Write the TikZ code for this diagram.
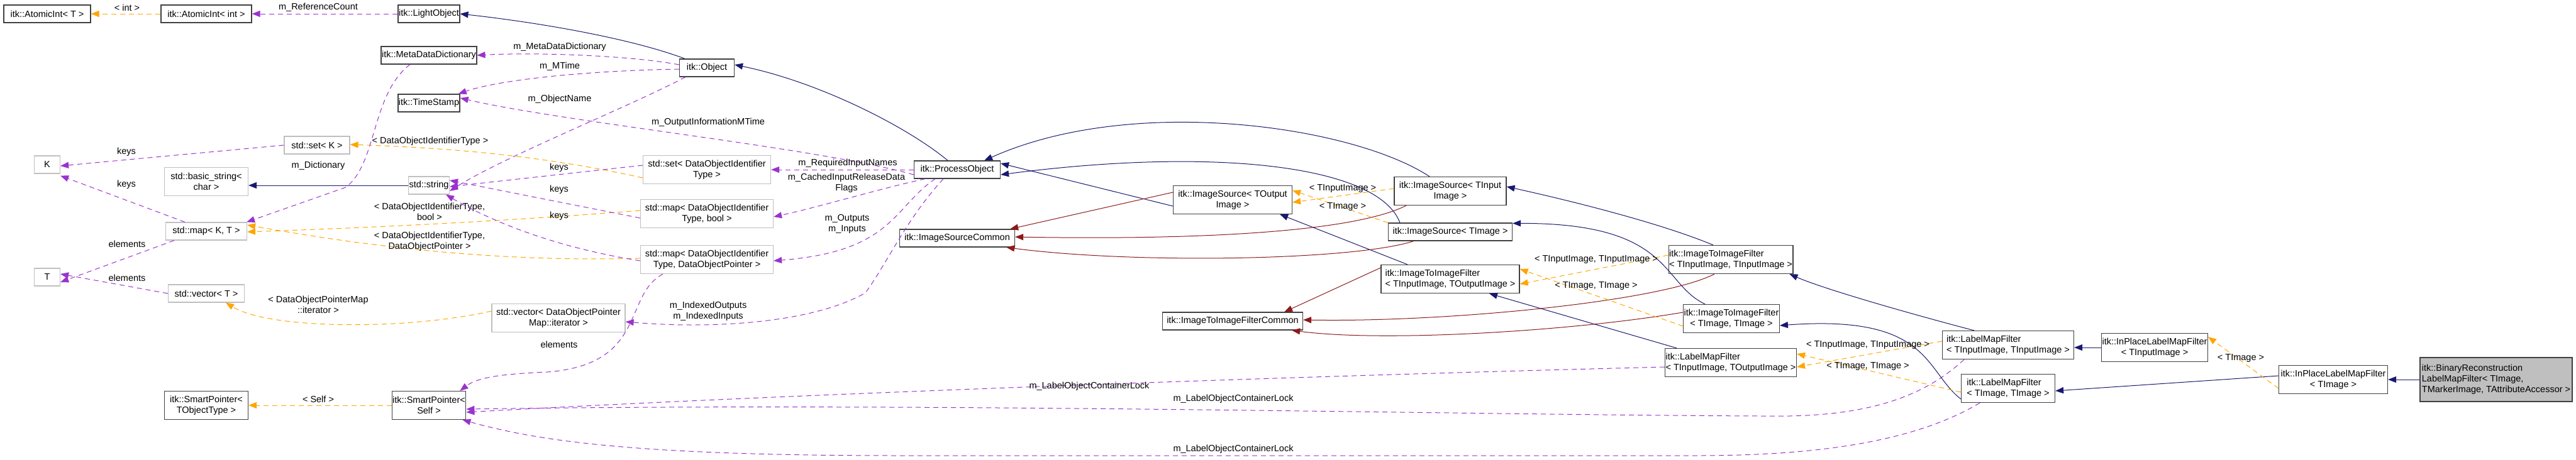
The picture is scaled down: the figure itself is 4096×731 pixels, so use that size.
\documentclass[tikz,border=0pt]{standalone}
\usepackage{fontspec}
\setmainfont{Liberation Sans}
\usetikzlibrary{arrows.meta}
\definecolor{inhc}{HTML}{191970}
\definecolor{redc}{HTML}{8B1A1A}
\definecolor{usec}{HTML}{9A32CD}
\definecolor{tmpc}{HTML}{FFA500}
\definecolor{grayb}{HTML}{BFBFBF}
\begin{document}
\begin{tikzpicture}[x=1pt,y=-1pt,
  every node/.style={font=\fontsize{14.5}{17}\selectfont, inner sep=1pt},
  itk/.style={draw=black!75, line width=1.2pt, fill=white, minimum height=28pt, align=center},
  std/.style={draw=grayb, line width=1.2pt, fill=white, minimum height=28pt, align=center},
  two/.style={minimum height=45pt},
  tip/.style={-{Triangle[length=13pt,width=10pt]}},
  inh/.style={tip, draw=inhc, line width=1pt},
  prv/.style={tip, draw=redc, line width=1pt},
  use/.style={tip, draw=usec, line width=1pt, dash pattern=on 8pt off 6pt},
  tpl/.style={tip, draw=tmpc, line width=1pt, dash pattern=on 8pt off 6pt},
  lbl/.style={fill=none, align=center}]
\useasboundingbox (0,0) rectangle (4096,731);
% ---- nodes
\node[itk, minimum width=138pt] (ait) at (75,22) {itk::AtomicInt< T >};
\node[itk, minimum width=144pt] (aii) at (328,22) {itk::AtomicInt< int >};
\node[itk, minimum width=84pt] (lo) at (682,22) {itk::LightObject};
\node[itk, minimum width=136pt] (mdd) at (682,88) {itk::MetaDataDictionary};
\node[itk, minimum width=85pt] (ts) at (682,164) {itk::TimeStamp};
\node[itk, minimum width=87pt] (obj) at (1124,108) {itk::Object};
\node[std, minimum width=104pt] (setk) at (504,231) {std::set< K >};
\node[std, minimum width=41pt] (K) at (75,262) {K};
\node[std, two, minimum width=133pt] (bstr) at (328,289) {std::basic\_string<\\char >};
\node[std, minimum width=53pt] (str) at (682,295) {std::string};
\node[std, minimum width=129pt] (mapkt) at (328,368) {std::map< K, T >};
\node[std, minimum width=41pt] (T) at (75,441) {T};
\node[std, minimum width=121pt] (vect) at (328,467) {std::vector< T >};
\node[itk, two, minimum width=133pt] (spto) at (328,645) {itk::SmartPointer<\\TObjectType >};
\node[itk, two, minimum width=103pt] (sps) at (682,645) {itk::SmartPointer<\\Self >};
\node[std, two, minimum width=203pt] (setd) at (1124,270) {std::set< DataObjectIdentifier\\Type >};
\node[std, two, minimum width=211pt] (mapb) at (1124,340) {std::map< DataObjectIdentifier\\Type, bool >};
\node[std, two, minimum width=211pt] (mapp) at (1124,413) {std::map< DataObjectIdentifier\\Type, DataObjectPointer >};
\node[std, two, minimum width=212pt] (vecp) at (888,506) {std::vector< DataObjectPointer\\Map::iterator >};
\node[itk, minimum width=137pt] (po) at (1522,270) {itk::ProcessObject};
\node[itk, minimum width=183pt] (isc) at (1522,379) {itk::ImageSourceCommon};
\node[itk, two, minimum width=189pt] (isout) at (1960,318) {itk::ImageSource< TOutput\\Image >};
\node[itk, minimum width=223pt] (i2ic) at (1960,511) {itk::ImageToImageFilterCommon};
\node[itk, two, minimum width=178pt] (isin) at (2306,304) {itk::ImageSource< TInput\\Image >};
\node[itk, minimum width=197pt] (isimg) at (2306,369) {itk::ImageSource< TImage >};
\node[itk, two, minimum width=220pt, align=left] (i2iout) at (2306,444) {itk::ImageToImageFilter\\< TInputImage, TOutputImage >};
\node[itk, two, minimum width=177pt, align=left] (i2iin) at (2752,413) {itk::ImageToImageFilter\\< TInputImage, TInputImage >};
\node[itk, two, minimum width=136pt] (i2iimg) at (2753,507) {itk::ImageToImageFilter\\< TImage, TImage >};
\node[itk, two, minimum width=189pt, align=left] (lmfout) at (2752,577) {itk::LabelMapFilter\\< TInputImage, TOutputImage >};
\node[itk, two, minimum width=209pt, align=left] (lmfin) at (3193,549) {itk::LabelMapFilter\\< TInputImage, TInputImage >};
\node[itk, two, minimum width=149pt, align=left] (lmfimg) at (3193,618) {itk::LabelMapFilter\\< TImage, TImage >};
\node[itk, two, minimum width=150pt] (ipin) at (3426,553) {itk::InPlaceLabelMapFilter\\< TInputImage >};
\node[itk, two, minimum width=173pt] (ipimg) at (3710,604) {itk::InPlaceLabelMapFilter\\< TImage >};
\node[itk, fill=grayb, minimum width=242pt, minimum height=70pt, align=left] (bin) at (3969,604) {itk::BinaryReconstruction\\LabelMapFilter< TImage,\\ TMarkerImage, TAttributeAccessor >};
% ---- inheritance
\draw[inh] (str.west) -- (bstr.east |- str.west);
\draw[inh] ([xshift=9pt]obj.north west) .. controls (1000,60) and (850,35) .. (lo.east);
\draw[inh] ([xshift=-15pt]po.north) .. controls (1440,200) and (1300,130) .. ([yshift=5pt]obj.east);
\draw[inh] ([yshift=-10pt]isout.west) -- ([yshift=10pt]po.east);
\draw[inh] ([xshift=-33pt]isin.north) .. controls (2150,200) and (1800,150) .. ([xshift=-26pt]po.north east);
\draw[inh] ([xshift=-80pt]isimg.north) .. controls (2190,260) and (1920,235) .. ([yshift=-8pt]po.east);
\draw[inh] ([xshift=-68pt]i2iout.north) -- ([xshift=-20pt]isout.south east);
\draw[inh] ([xshift=-28pt]i2iin.north) .. controls (2640,355) and (2500,320) .. ([yshift=7pt]isin.east);
\draw[inh] ([xshift=-42pt]i2iimg.north) .. controls (2640,450) and (2660,355) .. ([yshift=-1pt]isimg.north east);
\draw[inh] ([xshift=-86pt]lmfout.north) -- ([xshift=62pt]i2iout.south);
\draw[inh] ([xshift=-54pt]lmfin.north) .. controls (3040,500) and (2900,460) .. ([xshift=-6pt]i2iin.south east);
\draw[inh] ([yshift=-17pt]lmfimg.west) .. controls (3060,590) and (3070,500) .. ([yshift=-11pt]i2iimg.east);
\draw[inh] (ipin.west) -- (lmfin.east |- ipin.west);
\draw[inh] ([yshift=6pt]ipimg.west) -- ([yshift=-4pt]lmfimg.east);
\draw[inh] (bin.west) -- (ipimg.east);
% ---- protected (dark red)
\draw[prv] ([yshift=12pt]isout.west) -- ([xshift=-8pt]isc.north east);
\draw[prv] ([xshift=-70pt]isin.south) .. controls (2150,370) and (1900,382) .. ([yshift=2pt]isc.east);
\draw[prv] ([xshift=-58pt]isimg.south) .. controls (2150,415) and (1800,420) .. ([xshift=-14pt]isc.south east);
\draw[prv] ([yshift=18pt]i2iout.west) -- ([xshift=-30pt]i2ic.north east);
\draw[prv] ([xshift=-26pt]i2iin.south) .. controls (2640,480) and (2300,513) .. ([yshift=2pt]i2ic.east);
\draw[prv] ([yshift=10pt]i2iimg.west) .. controls (2500,527) and (2200,545) .. ([xshift=-18pt]i2ic.south east);
% ---- template (orange)
\draw[tpl] (aii.west) -- (ait.east);
\node[lbl] (l1) at (202,12) {< int >};
\draw[tpl] ([yshift=-13pt]setd.west) .. controls (850,245) and (700,235) .. ([yshift=1pt]setk.east);
\node[lbl] (l2) at (684,225) {< DataObjectIdentifierType >};
\draw[tpl] ([yshift=5pt]mapb.west) .. controls (800,352) and (600,362) .. ([yshift=-1pt]mapkt.east);
\node[lbl] (l3) at (683,337) {< DataObjectIdentifierType,\\bool >};
\draw[tpl] ([yshift=2pt]mapp.west) .. controls (800,417) and (600,395) .. ([yshift=10pt]mapkt.east);
\node[lbl] (l4) at (683,384) {< DataObjectIdentifierType,\\DataObjectPointer >};
\draw[tpl] ([yshift=11pt]vecp.west) .. controls (650,525) and (430,525) .. ([xshift=31pt]vect.south);
\node[lbl] (l5) at (506,485) {< DataObjectPointerMap\\::iterator >};
\draw[tpl] (sps.west) -- (spto.east);
\node[lbl] (l6) at (506,635) {< Self >};
\draw[tpl] ([yshift=4pt]isin.west) -- ([yshift=-4pt]isout.east);
\node[lbl] (l7) at (2135,300) {< TInputImage >};
\draw[tpl] (isimg.north west) -- ([yshift=15pt]isout.east);
\node[lbl] (l8) at (2135,329) {< TImage >};
\draw[tpl] ([yshift=7pt]i2iin.west) -- ([yshift=-8pt]i2iout.east);
\node[lbl] (l9) at (2538,413) {< TInputImage, TInputImage >};
\draw[tpl] ([yshift=-12pt]i2iimg.west) -- ([yshift=16pt]i2iout.east);
\node[lbl] (l10) at (2538,455) {< TImage, TImage >};
\draw[tpl] ([yshift=6pt]lmfin.west) -- ([yshift=-7pt]lmfout.east);
\node[lbl] (l11) at (2970,549) {< TInputImage, TInputImage >};
\draw[tpl] ([yshift=-6pt]lmfimg.west) -- ([yshift=14pt]lmfout.east);
\node[lbl] (l12) at (2970,583) {< TImage, TImage >};
\draw[tpl] ([yshift=-14pt]ipimg.west) -- ([yshift=17pt]ipin.east);
\node[lbl] (l13) at (3563,570) {< TImage >};
% ---- usage (purple)
\draw[use] (lo.west) -- (aii.east);
\node[lbl] (u1) at (506,12) {m\_ReferenceCount};
\draw[use] ([yshift=5pt]obj.west) .. controls (1000,88) and (850,83) .. (mdd.east);
\node[lbl] (u2) at (890,75) {m\_MetaDataDictionary};
\draw[use] ([yshift=-2pt]obj.west) .. controls (950,112) and (800,125) .. ([xshift=-3pt]ts.north east);
\node[lbl] (u3) at (890,106) {m\_MTime};
\draw[use] ([xshift=10pt]obj.south west) .. controls (1000,170) and (800,250) .. ([yshift=-9pt]str.east);
\node[lbl] (u4) at (890,158) {m\_ObjectName};
\draw[use] ([xshift=-30pt]mdd.south) .. controls (590,150) and (600,260) .. (550,298) -- ([xshift=-1pt]mapkt.north east);
\node[lbl] (u5) at (506,264) {m\_Dictionary};
\draw[use] (setk.west) -- ([yshift=-2pt]K.east);
\node[lbl] (u6) at (201,242) {keys};
\draw[use] ([xshift=-34pt]mapkt.north) -- ([yshift=-3pt]K.south east);
\node[lbl] (u7) at (201,294) {keys};
\draw[use] ([xshift=-51pt]mapkt.south) -- ([yshift=-8pt]T.east);
\node[lbl] (u8) at (202,388) {elements};
\draw[use] (vect.west) -- ([yshift=5pt]T.east);
\node[lbl] (u9) at (202,442) {elements};
\draw[use] ([yshift=7pt]setd.west) -- ([yshift=-2pt]str.east);
\node[lbl] (u10) at (889,267) {keys};
\draw[use] ([yshift=-7pt]mapb.west) -- ([yshift=8pt]str.east);
\node[lbl] (u11) at (889,302) {keys};
\draw[use] ([yshift=-2pt]mapp.west) .. controls (860,390) and (760,340) .. ([xshift=-6pt]str.south east);
\node[lbl] (u12) at (889,344) {keys};
\draw[use] ([xshift=-70pt]mapp.south) .. controls (990,470) and (1030,580) .. (870,592) .. controls (800,595) and (760,600) .. ([xshift=-10pt]sps.north east);
\node[lbl] (u13) at (889,548) {elements};
\draw[use] ([yshift=-8pt]po.west) .. controls (1300,235) and (900,195) .. ([yshift=8pt]ts.east);
\node[lbl] (u14) at (1126,195) {m\_OutputInformationMTime};
\draw[use] (po.west) -- (setd.east);
\node[lbl] (u15) at (1348,260) {m\_RequiredInputNames};
\draw[use] ([xshift=18pt]po.south west) .. controls (1400,300) and (1300,330) .. ([yshift=-5pt]mapb.east);
\node[lbl] (u16) at (1346,291) {m\_CachedInputReleaseData\\Flags};
\draw[use] ([xshift=-35pt]po.south) .. controls (1420,330) and (1420,400) .. ([yshift=-2pt]mapp.east);
\node[lbl] (u17) at (1347,356) {m\_Outputs\\m\_Inputs};
\draw[use] ([xshift=-22pt]po.south) .. controls (1440,350) and (1410,420) .. (1376,466) .. controls (1300,510) and (1150,525) .. ([yshift=-6pt]vecp.east);
\node[lbl] (u18) at (1126,495) {m\_IndexedOutputs\\m\_IndexedInputs};
\draw[use] ([yshift=-7pt]lmfout.west) .. controls (2000,600) and (1200,630) .. ([yshift=-11pt]sps.east);
\node[lbl] (u19) at (1732,615) {m\_LabelObjectContainerLock};
\draw[use] ([xshift=-70pt]lmfin.south) .. controls (3050,640) and (2950,665) .. (2800,662) .. controls (2300,660) and (1500,640) .. ([yshift=-6pt]sps.east);
\node[lbl] (u20) at (1961,635) {m\_LabelObjectContainerLock};
\draw[use] ([xshift=-45pt]lmfimg.south) .. controls (3050,700) and (2900,725) .. (2700,725) -- (1427,725) .. controls (1000,725) and (850,700) .. ([xshift=-6pt]sps.south east);
\node[lbl] (u21) at (1961,715) {m\_LabelObjectContainerLock};
\end{tikzpicture}
\end{document}
